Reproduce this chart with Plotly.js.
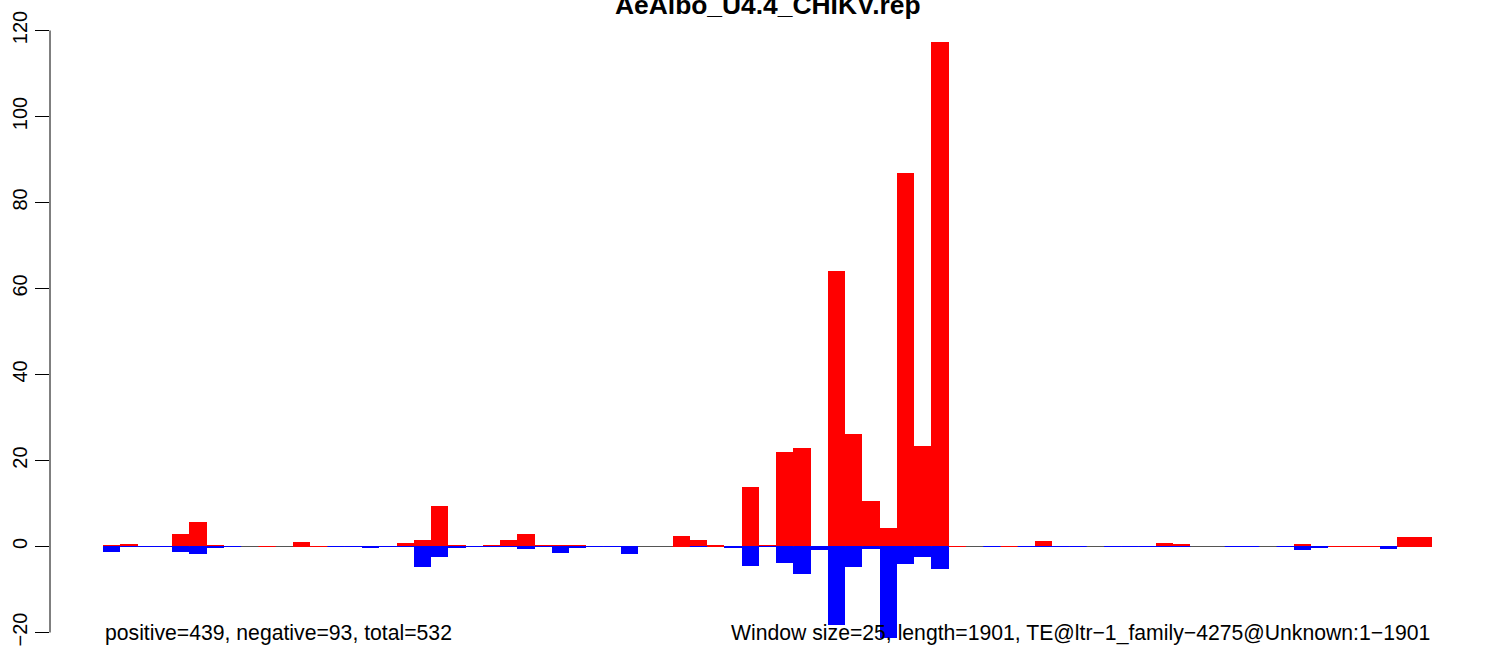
<!DOCTYPE html>
<html>
<head>
<meta charset="utf-8">
<script src="https://cdn.plot.ly/plotly-3.0.1.min.js"></script>
<style>
html,body{margin:0;padding:0;background:#fff;}
#chart{width:1490px;height:650px;}
</style>
</head>
<body>
<div id="chart"></div>
<script>
// ---- data (one entry per 25-bp window; null = window not present) ----
const chartTitle = "AeAlbo_U4.4_CHIKV.rep";
const leftNote = "positive=439, negative=93, total=532";
const rightNote = "Window size=25, length=1901, TE@ltr\u22121_family\u22124275@Unknown:1\u22121901";
const yTicks = [-20, 0, 20, 40, 60, 80, 100, 120];

const positive = [
  0.3, 0.55, null, null, 2.85, 5.8, 0.25, null, null, 0,
  null, 0.95, 0, null, null, null, null, 0.75, 1.4, 9.4,
  0.25, 0.2, 0.45, 1.4, 3.0, 0.25, 0.25, 0.45, null, null,
  null, null, null, 2.55, 1.6, 0.45, 0.2, 13.75, 0.45, 21.9,
  22.8, 0.2, 64.1, 26.1, 10.5, 4.4, 86.9, 23.4, 117.4, 0,
  null, null, 0, null, 1.17, null, null, null, null, 0.23,
  null, 0.7, 0.65, null, null, 0.23, null, null, null, 0.47,
  null, 0, 0, 0, null, 2.1, 2.1
];
const negative = [
  -1.2, 0, 0, 0, -1.2, -1.8, -0.45, 0, null, null,
  null, null, null, 0, 0, -0.4, 0, 0, -4.8, -2.5,
  -0.4, 0, 0, 0, -0.6, 0, -1.55, -0.4, 0, 0,
  -1.8, null, null, null, 0, null, -0.4, -4.6, 0, -3.9,
  -6.45, -0.9, -18.2, -4.8, -0.6, -21.3, -4.1, -2.5, -5.3, null,
  null, 0, null, 0, 0, 0, 0, null, 0, 0,
  0, 0, 0, null, null, 0, 0, null, 0, -0.7,
  -0.4, null, null, null, -0.47, null, null
];

// ---- derived ----
const n = positive.length;
const centers = positive.map((_, i) => i + 0.5);

// zero-height window outlines (drawn like R's rect borders)
function segs(pred) {
  const xs = [], ys = [];
  for (let i = 0; i < n; i++) {
    if (pred(i)) { xs.push(i, i + 1, null); ys.push(0, 0, null); }
  }
  return {xs, ys};
}
const blueSeg = segs(i => negative[i] !== null);
const redSeg = segs(i => negative[i] === null && positive[i] !== null);

const traces = [
  {type:'scatter', mode:'lines', x:[0, n], y:[0, 0],
   line:{color:'#555555', width:1}, hoverinfo:'skip', showlegend:false},
  {type:'scatter', mode:'lines', x:redSeg.xs, y:redSeg.ys, connectgaps:false,
   line:{color:'#FF0000', width:1}, hoverinfo:'skip', showlegend:false},
  {type:'scatter', mode:'lines', x:blueSeg.xs, y:blueSeg.ys, connectgaps:false,
   line:{color:'#0000FF', width:1}, hoverinfo:'skip', showlegend:false},
  {type:'bar', x:centers, y:positive, width:1, marker:{color:'#FF0000', line:{width:0}},
   showlegend:false},
  {type:'bar', x:centers, y:negative, width:1, marker:{color:'#0000FF', line:{width:0}},
   showlegend:false}
];

const ext = 0.04 * n;
const fontFam = '"Liberation Sans", Arial, Helvetica, sans-serif';

const layout = {
  width:1490, height:650,
  margin:{l:50, r:5, t:0, b:0, pad:0},
  paper_bgcolor:'#ffffff', plot_bgcolor:'#ffffff',
  barmode:'overlay', bargap:0,
  showlegend:false,
  font:{family:fontFam, color:'#000000', size:20},
  xaxis:{range:[-ext, n + ext], visible:false, showgrid:false, zeroline:false, fixedrange:true},
  yaxis:{range:[-24.07, 127.09], tickvals:yTicks, ticktext:yTicks.map(v => v < 0 ? '\u2212' + Math.abs(v) : String(v)),
         ticks:'outside', ticklen:14, tickwidth:1, tickcolor:'#000000',
         tickangle:-90, tickfont:{size:20, family:fontFam, color:'#000000'},
         showline:false, showgrid:false, zeroline:false, fixedrange:true},
  shapes:[
    {type:'line', xref:'paper', x0:0, x1:0, yref:'y', y0:yTicks[0], y1:yTicks[yTicks.length-1],
     line:{color:'#000000', width:1}}
  ],
  annotations:[
    {text:'<b>' + chartTitle + '</b>', xref:'paper', x:0.5, yref:'paper', y:1, yanchor:'middle',
     yshift:-5, showarrow:false, font:{size:26.4, family:fontFam, color:'#000000'}},
    {text:leftNote, xref:'x', x:0, xanchor:'left', yref:'y', y:-20, yanchor:'middle',
     showarrow:false, font:{size:21.2, family:fontFam, color:'#000000'}},
    {text:rightNote, xref:'x', x:n, xanchor:'right', yref:'y', y:-20, yanchor:'middle',
     showarrow:false, font:{size:21.2, family:fontFam, color:'#000000'}}
  ]
};

Plotly.newPlot('chart', traces, layout, {staticPlot:true, displayModeBar:false});
</script>
</body>
</html>
